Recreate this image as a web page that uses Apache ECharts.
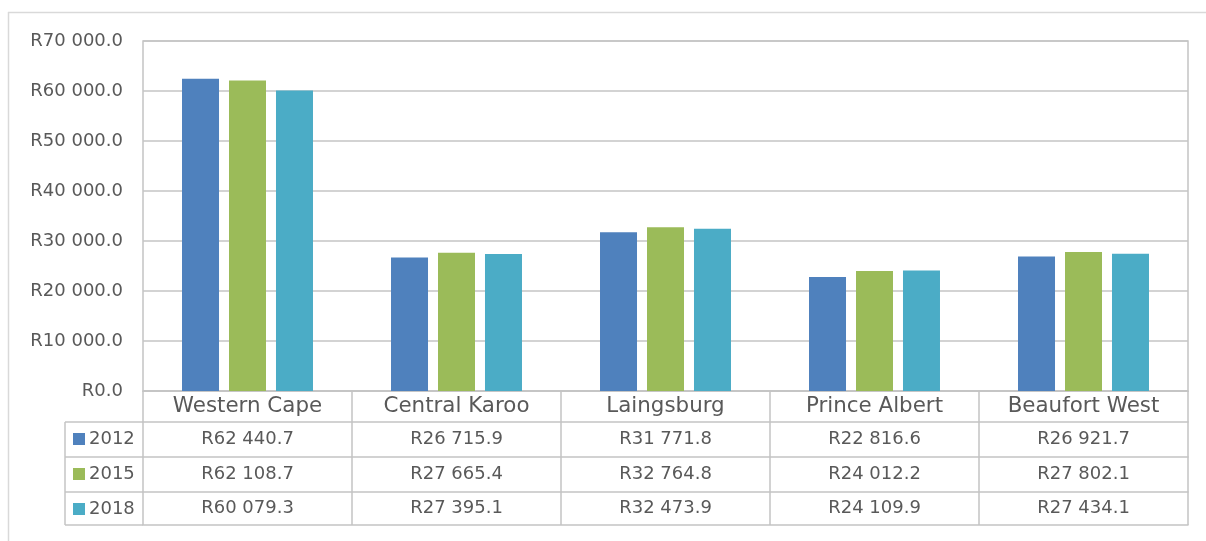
<!DOCTYPE html>
<html><head><meta charset="utf-8">
<script src="https://cdn.jsdelivr.net/npm/echarts@6/dist/echarts.min.js"></script>
<style>html,body{margin:0;padding:0;background:#fff;overflow:hidden}#c{width:1206px;height:541px}</style>
</head><body><div id="c"></div>
<script>
const categories = ['Western Cape', 'Central Karoo', 'Laingsburg', 'Prince Albert', 'Beaufort West'];
const years = ['2012', '2015', '2018'];
const v2012 = [62440.7, 26715.9, 31771.8, 22816.6, 26921.7];
const v2015 = [62108.7, 27665.4, 32764.8, 24012.2, 27802.1];
const v2018 = [60079.3, 27395.1, 32473.9, 24109.9, 27434.1];
const seriesValues = [v2012, v2015, v2018];
const yMin = 0, yMax = 70000, yStep = 10000;
const colors = ['#4f81bd', '#9bbb59', '#4bacc6'];

const FONT = 'DejaVu Sans';
const TXT = '#595959';
const LINE = '#c4c4c4';
const GRID = { left: 143, right: 18, top: 41, bottom: 150 };
const H = 541, W = 1206;
const HEADER_H = 31;
const ROW_H = [35, 35, 33];
const TABLE_LEFT = 65;

function fmt(v) {
  const s = v.toFixed(1);
  const parts = s.split('.');
  const intPart = parts[0].replace(/\B(?=(\d{3})+(?!\d))/g, ' ');
  return 'R' + intPart + '.' + parts[1];
}

const axisY0 = H - GRID.bottom;
const offsets = [0, HEADER_H, HEADER_H + ROW_H[0], HEADER_H + ROW_H[0] + ROW_H[1], HEADER_H + ROW_H[0] + ROW_H[1] + ROW_H[2]];
const heights = [HEADER_H].concat(ROW_H);

const xAxes = [];
for (let i = 0; i < 5; i++) {
  const last = i === 4;
  xAxes.push({
    type: 'category',
    data: categories,
    position: 'bottom',
    offset: offsets[i],
    gridIndex: 0,
    axisLine: { show: true, lineStyle: { color: LINE, width: 1.5 } },
    axisTick: { show: !last, interval: 0, alignWithLabel: false, length: last ? 0 : heights[i], lineStyle: { color: LINE, width: 1.5 } },
    axisLabel: {
      show: !last,
      interval: 0,
      margin: last ? 0 : heights[i] / 2,
      verticalAlign: 'middle',
      color: TXT,
      fontFamily: FONT,
      fontSize: i === 0 ? 21.4 : 18,
      formatter: i === 0 ? null : (function (idx) { return function (val, k) { return fmt(seriesValues[idx][k]); }; })(i - 1)
    },
    splitLine: { show: false }
  });
}

const graphics = [
  { type: 'line', z: -10, shape: { x1: 8, y1: 12.5, x2: W, y2: 12.5 }, style: { stroke: '#d9d9d9', lineWidth: 1.5 }, silent: true },
  { type: 'line', z: -10, shape: { x1: 8.5, y1: 12, x2: 8.5, y2: H }, style: { stroke: '#d9d9d9', lineWidth: 1.5 }, silent: true }
];
for (let i = 1; i < offsets.length; i++) {
  const y = axisY0 + offsets[i];
  graphics.push({ type: 'line', shape: { x1: TABLE_LEFT, y1: y, x2: GRID.left, y2: y }, style: { stroke: LINE, lineWidth: 1.5 }, silent: true });
}
graphics.push({ type: 'line', shape: { x1: TABLE_LEFT, y1: axisY0 + offsets[1], x2: TABLE_LEFT, y2: axisY0 + offsets[4] }, style: { stroke: LINE, lineWidth: 1.5 }, silent: true });

const option = {
  animation: false,
  backgroundColor: '#fff',
  textStyle: { fontFamily: FONT },
  grid: { left: GRID.left, right: GRID.right, top: GRID.top, bottom: GRID.bottom, show: true, borderColor: LINE, borderWidth: 1.5, containLabel: false },
  legend: {
    data: years,
    orient: 'vertical',
    left: 73,
    top: axisY0 + offsets[1] + 7,
    padding: 0,
    itemWidth: 12,
    itemHeight: 12,
    itemGap: 15,
    icon: 'rect',
    selectedMode: false,
    textStyle: { color: TXT, fontFamily: FONT, fontSize: 18, lineHeight: 20, padding: [0, 0, 0, -1] }
  },
  xAxis: xAxes,
  yAxis: {
    type: 'value',
    min: yMin, max: yMax, interval: yStep,
    axisLine: { show: false },
    axisTick: { show: false },
    axisLabel: { margin: 20, color: TXT, fontFamily: FONT, fontSize: 18, formatter: fmt },
    splitLine: { lineStyle: { color: LINE, width: 1.5 } }
  },
  series: years.map((y, i) => ({
    name: y,
    type: 'bar',
    xAxisIndex: 0,
    data: seriesValues[i],
    barWidth: 37,
    barGap: '27%',
    itemStyle: { color: colors[i] }
  })),
  graphic: graphics
};

const chart = echarts.init(document.getElementById('c'), null, { renderer: 'canvas' });
chart.setOption(option);
</script>
</body></html>
